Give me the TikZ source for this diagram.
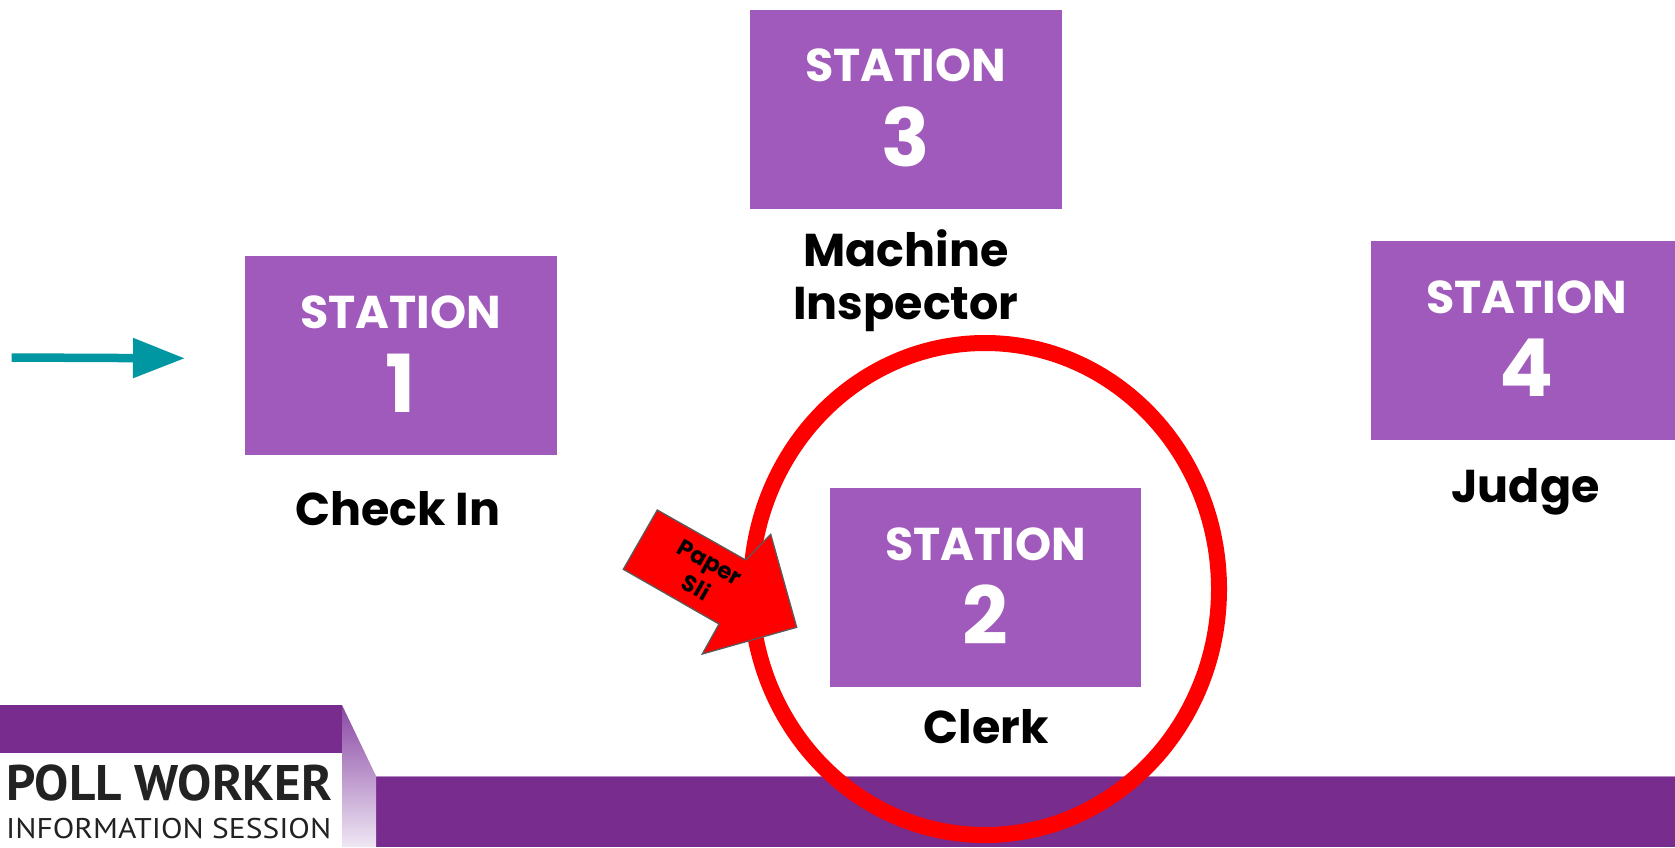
\documentclass[tikz,border=0pt]{standalone}
\usepackage{fontspec}
\usepackage{graphicx}
\newfontfamily\pop{Poppins}
\newfontfamily\pts{PT Sans}
\usetikzlibrary{arrows.meta}
\definecolor{stpurple}{HTML}{A05ABB}
\definecolor{barpurple}{HTML}{782C8E}
\definecolor{foldtop}{HTML}{8A48A4}
\definecolor{foldbot}{HTML}{EFE7F4}
\definecolor{arrowgray}{HTML}{5A5A5A}
\definecolor{tealarrow}{HTML}{0097A3}
\definecolor{textdark}{HTML}{222222}
\begin{document}
\begin{tikzpicture}[x=1pt,y=-1pt,
  stbox/.style={rectangle, fill=stpurple, minimum width=311.5pt, minimum height=199pt, inner sep=0pt, outer sep=0pt},
  sttitle/.style={text=white, font=\pop\bfseries\fontsize{46}{46}\selectfont, inner sep=0pt},
  stnum/.style={text=white, font=\pop\bfseries\fontsize{80}{80}\selectfont, inner sep=0pt},
  role/.style={text=black, font=\pop\bfseries\fontsize{46}{50}\selectfont, inner sep=0pt, anchor=base},
]
\useasboundingbox (0,0) rectangle (1675,847);
\fill[white] (0,0) rectangle (1675,847);

% bottom banner
\fill[barpurple] (0,705) rectangle (342,753);
\fill[barpurple] (376,776) rectangle (1675,847);
\draw[color=barpurple!55!white, line width=1pt] (376,776.5) -- (1675,776.5);
\shade[top color=foldtop, bottom color=foldbot] (342,705) -- (376,776) -- (376,847) -- (342,847) -- cycle;
\node[anchor=base west, inner sep=0pt, text=textdark] (pw) at (6,800)
  {\resizebox{326pt}{\height}{\pts\bfseries\fontsize{50}{50}\selectfont POLL WORKER}};
\node[anchor=base west, inner sep=0pt, text=textdark] (is) at (6,838.3)
  {\resizebox{325pt}{\height}{\pts\fontsize{28.5}{28.5}\selectfont INFORMATION SESSION}};

% stations
\node[stbox] (s1) at (400.8,355.5) {};
\node[sttitle] (s1t) at ([yshift=43.5pt]s1.center) {STATION};
\node[stnum] (s1n) at ([yshift=-27.5pt]s1.center) {1};

\node[stbox] (s3) at (905.8,109) {};
\node[sttitle] (s3t) at ([yshift=43.5pt]s3.center) {STATION};
\node[stnum] (s3n) at ([yshift=-27.5pt]s3.center) {3};

\node[stbox] (s4) at (1526.5,340.5) {};
\node[sttitle] (s4t) at ([yshift=43.5pt]s4.center) {STATION};
\node[stnum] (s4n) at ([yshift=-27.5pt]s4.center) {4};

\node[stbox] (s2) at (985.5,587.5) {};
\node[sttitle] (s2t) at ([yshift=43.5pt]s2.center) {STATION};
\node[stnum] (s2n) at ([yshift=-27.5pt]s2.center) {2};

% role labels
\node[role] (l1) at (398,525) {Check In};
\node[role] (l3a) at (906,266) {Machine};
\node[role] (l3b) at (906,319) {Inspector};
\node[role] (l4) at (1525.5,502) {Judge};
\node[role] (l2) at (986,743.3) {Clerk};

% red ring
\draw[red, line width=16pt] (985,589) ellipse [x radius=234, y radius=246];

% red block arrow
\coordinate (pa) at (657.3,510);
\coordinate (pb) at (745.7,560);
\coordinate (pc) at (770.7,534.3);
\coordinate (pd) at (796.7,627.3);
\coordinate (pe) at (702.3,654);
\coordinate (pf) at (719,624);
\coordinate (pg) at (623.3,569.3);
\draw[fill=red, draw=arrowgray, line width=1.3pt, line join=miter]
  (pa) -- (pb) -- (pc) -- (pd) -- (pe) -- (pf) -- (pg) -- cycle;
\node[rotate=-29.5, font=\pop\bfseries\fontsize{23}{29}\selectfont, align=center, inner sep=0pt, text=black] (paper) at (703,575) {Paper\\Sli};

% teal entry arrow
\coordinate (ta) at (11.7,357.5);
\coordinate (tt) at (185,358.3);
\draw[tealarrow, line width=8.5pt, -{Triangle[length=52pt, width=38pt]}] (ta) -- (tt);
\end{tikzpicture}
\end{document}
